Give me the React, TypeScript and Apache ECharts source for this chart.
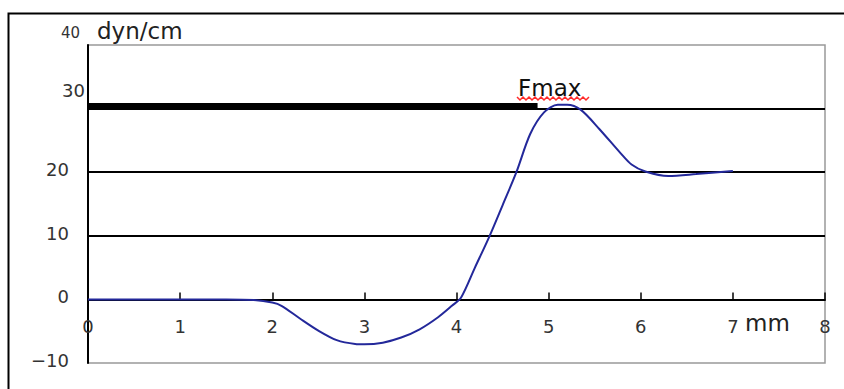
import React, { useEffect, useRef } from "react";
import * as echarts from "echarts";

// distance (mm) and force (dyn/cm)
const distanceMm = [0, 0.5, 1, 1.5, 1.8, 2.0, 2.1, 2.3, 2.5, 2.7, 2.9, 3.0, 3.2, 3.4, 3.6, 3.8, 3.95, 4.05, 4.2, 4.36, 4.5, 4.65, 4.8, 4.95, 5.1, 5.2, 5.35, 5.55, 5.78, 5.9, 6.05, 6.3, 6.6, 7.0];
const forceDyn = [0, 0, 0, 0, -0.1, -0.5, -1.0, -3.0, -4.9, -6.4, -7.0, -7.05, -6.8, -6.0, -4.7, -2.8, -1.0, 0.3, 5, 10, 14.8, 20, 26, 29.4, 30.6, 30.6, 29.8, 26.8, 23, 21.2, 20.1, 19.4, 19.7, 20.2];

// thick Fmax reference bar
const fmaxBarX = [0, 4.88];
const fmaxBarY = 30.5;

const xTicks = { min: 0, max: 8, interval: 1 };
const yTicks = { min: -10, max: 40, interval: 10 };

const FONT = "DejaVu Sans";

export default function App() {
  const ref = useRef<HTMLDivElement>(null);
  useEffect(() => {
    document.body.style.margin = "0";
    if (!ref.current) return;
    const chart = echarts.init(ref.current, undefined, { renderer: "svg" });

    const squiggle: number[][] = [];
    for (let i = 0; i <= 24; i++) squiggle.push([517 + i * 3, i % 2 === 0 ? 97 : 100]);

    chart.setOption({
      animation: false,
      backgroundColor: "#fff",
      textStyle: { fontFamily: FONT },
      grid: {
        left: 88,
        top: 45,
        right: 19,
        bottom: 26,
        containLabel: false,
        outerBoundsMode: "none",
        show: true,
        borderColor: "#999",
        borderWidth: 1.5,
        backgroundColor: "transparent",
      },
      xAxis: {
        type: "value",
        min: xTicks.min,
        max: xTicks.max,
        interval: xTicks.interval,
        axisLine: { onZero: true, lineStyle: { color: "#000", width: 2 } },
        axisTick: { show: true, inside: true, length: 7, lineStyle: { color: "#000", width: 1.5 } },
        axisLabel: { margin: -46, fontSize: 18, color: "#333", fontFamily: FONT },
        splitLine: { show: false },
      },
      yAxis: {
        type: "value",
        min: yTicks.min,
        max: yTicks.max,
        interval: yTicks.interval,
        name: "dyn/cm",
        nameLocation: "end",
        nameGap: 3,
        nameTextStyle: { fontSize: 23, color: "#222", fontFamily: FONT, align: "left", padding: [0, 0, 0, 9] },
        axisLine: { show: true, onZero: false, lineStyle: { color: "#000", width: 2 } },
        axisTick: { show: false },
        axisLabel: {
          margin: 3,
          formatter: (v: number) => {
            const t = v < 0 ? "\u2212" + Math.abs(v) : String(v);
            if (v === 40) return "{a|" + t + "}";
            if (v === 30) return "{b|" + t + "}";
            return "{n|" + t + "}";
          },
          rich: {
            n: { fontSize: 18, color: "#333", fontFamily: FONT, padding: [0, 16, 5, 0] },
            b: { fontSize: 18, color: "#333", fontFamily: FONT, padding: [0, 0, 36, 0] },
            a: { fontSize: 15, color: "#333", fontFamily: FONT, padding: [0, 5, 24, 0] },
          },
        },
        splitLine: { show: true, showMinLine: false, showMaxLine: false, lineStyle: { color: "#000", width: 2 } },
      },
      graphic: [
        {
          type: "rect",
          shape: { x: 8.5, y: 13.5, width: 900, height: 500 },
          style: { fill: "none", stroke: "#000", lineWidth: 2 },
          silent: true,
        },
        {
          type: "text",
          x: 745,
          y: 323,
          style: { text: "mm", fontSize: 23, fill: "#222", fontFamily: FONT, textAlign: "left", textVerticalAlign: "middle" },
          z: 10,
        },
        {
          type: "text",
          x: 518,
          y: 88,
          style: { text: "Fmax", fontSize: 23, fill: "#111", fontFamily: FONT, textAlign: "left", textVerticalAlign: "middle" },
          z: 10,
        },
        {
          type: "polyline",
          shape: { points: squiggle },
          style: { stroke: "#ff2a2a", lineWidth: 1.5, fill: "none" },
          z: 10,
        },
      ],
      series: [
        {
          type: "line",
          data: fmaxBarX.map((x) => [x, fmaxBarY]),
          symbol: "none",
          lineStyle: { color: "#000", width: 5 },
          z: 1,
          silent: true,
        },
        {
          type: "line",
          data: distanceMm.map((x, i) => [x, forceDyn[i]]),
          symbol: "none",
          smooth: 0.3,
          lineStyle: { color: "#23289a", width: 2 },
          z: 3,
        },
      ],
    });
    return () => chart.dispose();
  }, []);
  return <div ref={ref} style={{ width: 844, height: 389 }} />;
}
